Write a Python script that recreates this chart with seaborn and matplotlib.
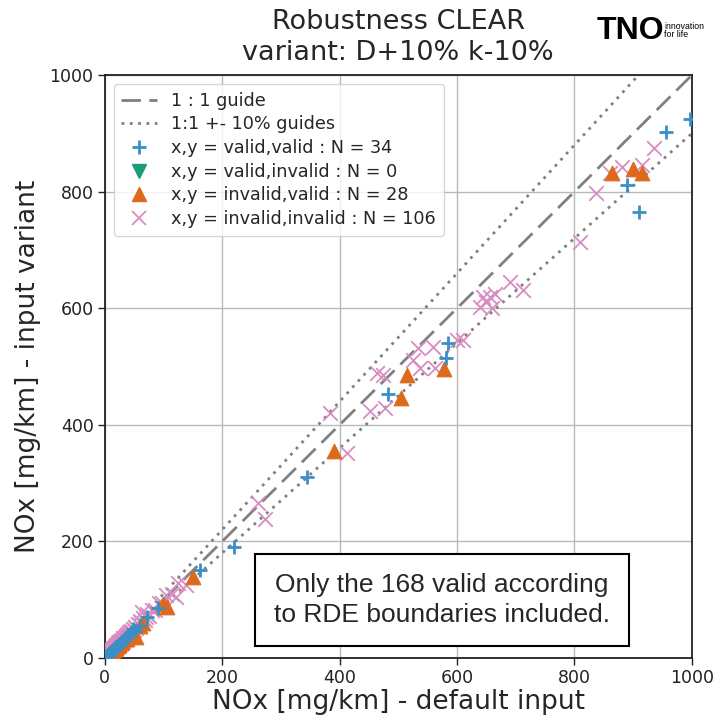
import matplotlib
matplotlib.use("Agg")
import matplotlib.pyplot as plt
import seaborn as sns
import pandas as pd
from matplotlib.lines import Line2D

# ---- data ----
vv_x = [997, 956, 889, 910, 584, 581, 482, 344, 220, 162, 90,
        72, 60, 52, 45, 40, 35, 30, 28, 25, 22, 20, 18, 15, 13, 11, 9, 7, 6, 5, 4, 3, 48, 33]
vv_y = [925, 902, 811, 765, 540, 515, 453, 310, 190, 151, 86,
        70, 55, 48, 44, 38, 33, 29, 25, 24, 20, 19, 17, 14, 12, 10, 9, 7, 5, 5, 4, 3, 50, 31]

vi_x = []
vi_y = []

iv_x = [864, 899, 915, 514, 578, 504, 390, 150, 106, 54,
        100, 48, 42, 38, 35, 30, 27, 25, 22, 20, 18, 16, 14, 12, 10, 8, 60, 65]
iv_y = [832, 839, 832, 485, 496, 446, 355, 139, 88, 36,
        92, 42, 40, 33, 32, 27, 25, 22, 20, 18, 16, 15, 13, 11, 9, 7, 55, 60]

ii_x = [935, 836, 881, 915, 860, 809, 690, 712, 656, 650, 660, 645, 665, 639, 610, 600,
        559, 533, 525, 537, 562, 474, 463, 383, 451, 477, 412, 261, 273, 139, 122, 63, 71,
        2, 3, 3, 4, 5, 5, 6, 7, 7, 8, 9, 9, 10, 11, 11, 12, 13, 14, 14, 15, 16, 17, 17, 18,
        19, 20, 20, 21, 22, 23, 23, 24, 25, 26, 26, 27, 28, 29, 30, 31, 32, 33, 34, 35, 36,
        37, 38, 39, 40, 41, 42, 44, 45, 46, 48, 50, 52, 54, 56, 58, 60, 62, 65, 68, 72, 75,
        80, 85, 92, 98, 105, 115, 125]
ii_y = [875, 797, 842, 846, 832, 714, 645, 631, 619, 610, 600, 620, 625, 602, 545, 545,
        533, 532, 511, 497, 497, 485, 489, 420, 424, 429, 352, 266, 238, 125, 105, 79, 70,
        3, 2, 4, 5, 4, 6, 7, 6, 8, 9, 8, 10, 11, 10, 13, 12, 14, 13, 16, 15, 17, 16, 19, 18,
        20, 19, 22, 21, 23, 22, 25, 24, 27, 25, 28, 27, 30, 28, 31, 30, 34, 32, 35, 34, 38,
        36, 40, 38, 42, 40, 44, 43, 47, 45, 50, 48, 54, 52, 58, 56, 63, 60, 68, 66, 75, 72,
        82, 83, 95, 94, 108, 110, 128]

guide = [0, 1000]
ticks = [0, 200, 400, 600, 800, 1000]

c_vv = "#3a8fc6"
c_vi = "#1b9e77"
c_iv = "#dd6a1c"
c_ii = "#d98cc2"

sns.set_style("white")
plt.rcParams["font.family"] = ["DejaVu Sans"]

fig = plt.figure(figsize=(7.17, 7.22), dpi=100)
ax = fig.add_axes([0.146, 0.0886, 0.819, 0.8074])

ax.grid(True, color="#b8b8b8", linewidth=1.0, zorder=0)
ax.set_axisbelow(True)

l1, = ax.plot(guide, guide, linestyle=(0, (7, 3)), color="#808080", linewidth=2, zorder=2)
l2, = ax.plot(guide, [v * 1.1 for v in guide], linestyle=(0, (1, 2)), color="#808080", linewidth=2, zorder=2)
ax.plot(guide, [v * 0.9 for v in guide], linestyle=(0, (1, 2)), color="#808080", linewidth=2, zorder=2)

d_ii = pd.DataFrame({"x": ii_x, "y": ii_y})
d_iv = pd.DataFrame({"x": iv_x, "y": iv_y})
d_vv = pd.DataFrame({"x": vv_x, "y": vv_y})

sns.scatterplot(data=d_ii, x="x", y="y", marker="x", s=110, color=c_ii, linewidth=1.3, ax=ax, zorder=3)
sns.scatterplot(data=d_iv, x="x", y="y", marker="^", s=110, color=c_iv, edgecolor=c_iv, ax=ax, zorder=4)
sns.scatterplot(data=d_vv, x="x", y="y", marker="+", s=110, color=c_vv, linewidth=2, ax=ax, zorder=5)
ax.scatter(vi_x, vi_y, marker="v", s=110, color=c_vi)

handles = [
    l1, l2,
    Line2D([], [], marker="+", linestyle="", color=c_vv, markersize=10, markeredgewidth=2),
    Line2D([], [], marker="v", linestyle="", color=c_vi, markersize=10),
    Line2D([], [], marker="^", linestyle="", color=c_iv, markersize=10),
    Line2D([], [], marker="x", linestyle="", color=c_ii, markersize=10, markeredgewidth=1.3),
]
labels = [
    "1 : 1 guide",
    "1:1 +- 10% guides",
    f"x,y = valid,valid : N = {len(vv_x)}",
    f"x,y = valid,invalid : N = {len(vi_x)}",
    f"x,y = invalid,valid : N = {len(iv_x)}",
    f"x,y = invalid,invalid : N = {len(ii_x)}",
]
leg = ax.legend(handles, labels, loc="upper left", fontsize=12.7, frameon=True,
                handlelength=2.0, borderpad=0.45, labelspacing=0.32)
leg.get_frame().set_edgecolor("#cccccc")

ax.set_xlim(0, 1000)
ax.set_ylim(0, 1000)
ax.set_xticks(ticks)
ax.set_yticks(ticks)
ax.tick_params(axis="both", labelsize=12.5, direction="out", length=5, width=1, pad=3,
               left=True, bottom=True, top=False, right=False, colors="#222222")
for sp in ax.spines.values():
    sp.set_color("#222222")
    sp.set_linewidth(1.3)

ax.set_xlabel("NOx [mg/km] - default input", fontsize=19, labelpad=1)
ax.set_ylabel("NOx [mg/km] - input variant", fontsize=19, labelpad=6)
ax.set_title("Robustness CLEAR\nvariant: D+10% k-10%", fontsize=19.5, pad=11, linespacing=1.25)

ax.text(0.574, 0.0995, "Only the 168 valid according\nto RDE boundaries included.",
        transform=ax.transAxes, ha="center", va="center", fontsize=19,
        family="Liberation Sans", linespacing=1.3, zorder=10,
        bbox=dict(boxstyle="square,pad=0.72", facecolor="white", edgecolor="black", linewidth=1.5))

fig.text(0.832, 0.957, "TNO", fontsize=23, fontweight="heavy", family="Liberation Sans",
         ha="left", va="center", color="black")
fig.text(0.926, 0.958, "innovation\nfor life", fontsize=6.3, family="Liberation Sans",
         ha="left", va="center", color="black", linespacing=0.85)

fig.savefig("out.png", dpi=100)
